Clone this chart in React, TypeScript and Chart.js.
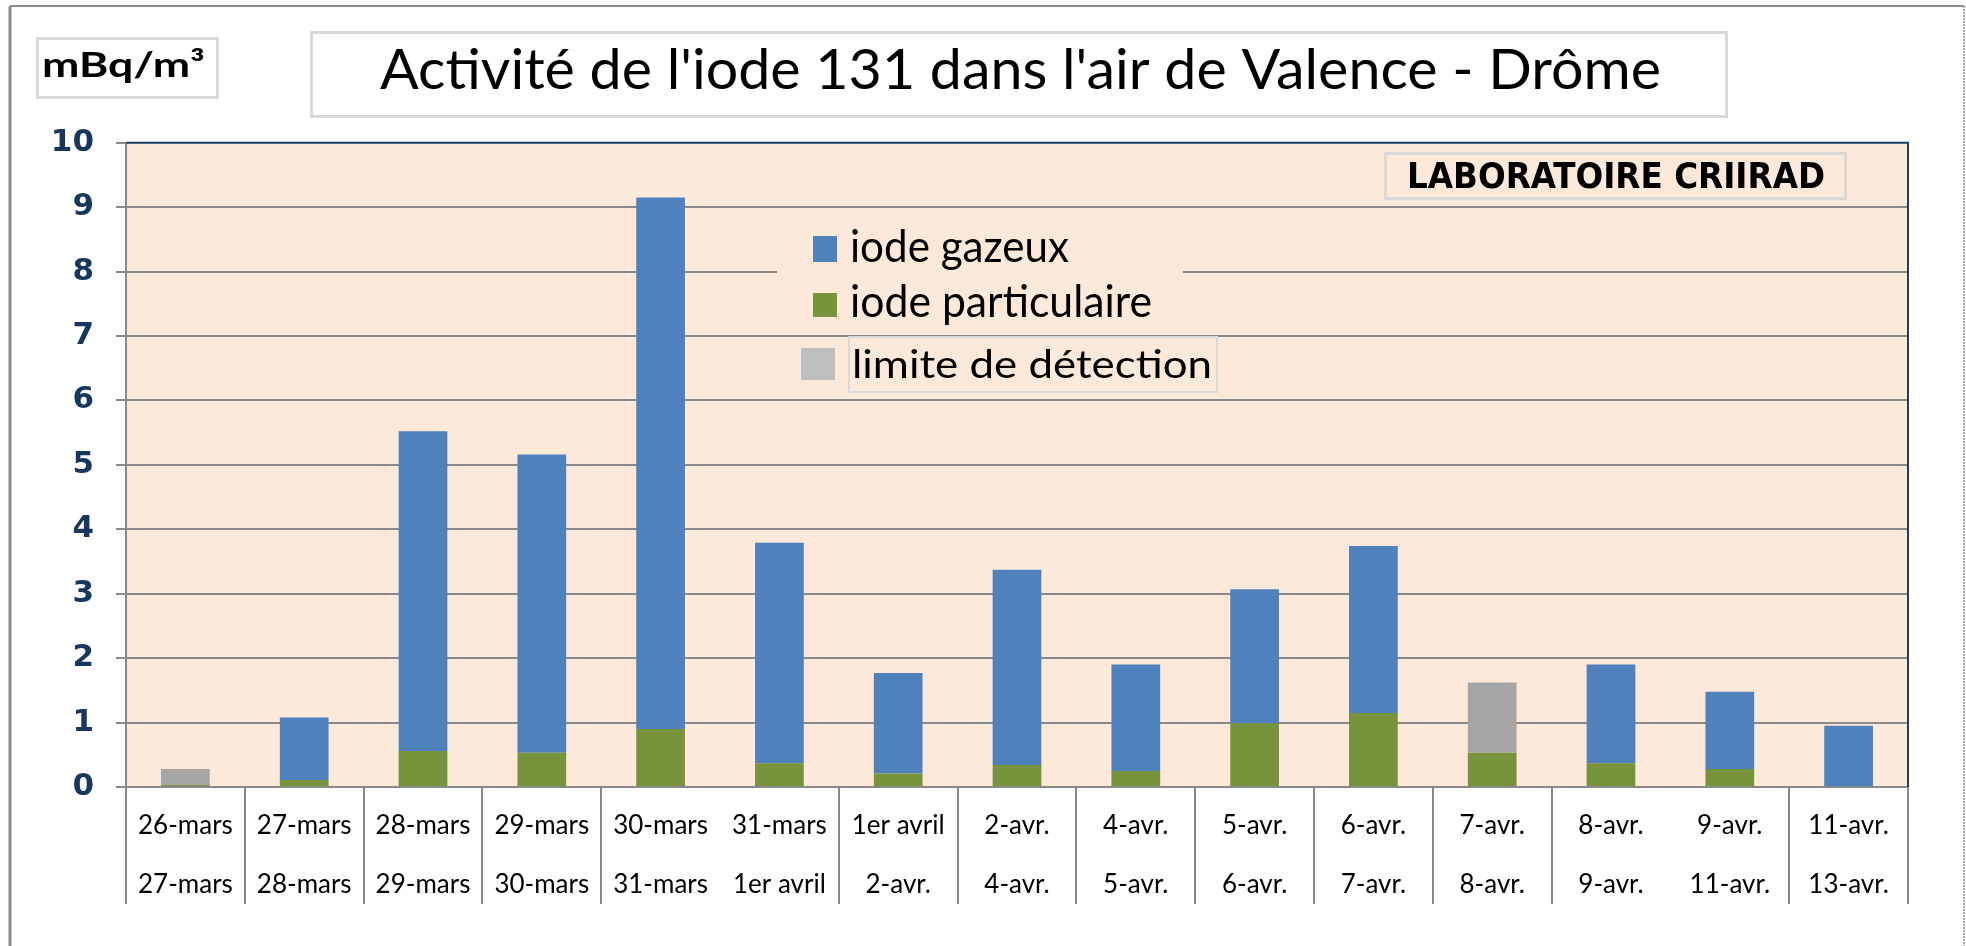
import React, { useEffect, useRef } from "react";
import { Chart, registerables } from "chart.js";

Chart.register(...registerables);

// ---------- data ----------
const periodStart = ["26-mars", "27-mars", "28-mars", "29-mars", "30-mars", "31-mars", "1er avril", "2-avr.", "4-avr.", "5-avr.", "6-avr.", "7-avr.", "8-avr.", "9-avr.", "11-avr."];
const periodEnd = ["27-mars", "28-mars", "29-mars", "30-mars", "31-mars", "1er avril", "2-avr.", "4-avr.", "5-avr.", "6-avr.", "7-avr.", "8-avr.", "9-avr.", "11-avr.", "13-avr."];
const iodeParticulaire = [0.03, 0.11, 0.56, 0.53, 0.9, 0.37, 0.21, 0.34, 0.25, 0.99, 1.15, 0.53, 0.37, 0.28, 0];
const iodeGazeux = [0, 0.97, 4.96, 4.63, 8.25, 3.42, 1.56, 3.03, 1.65, 2.08, 2.59, 0, 1.53, 1.2, 0.95];
const limiteDetection = [0.25, 0, 0, 0, 0, 0, 0, 0, 0, 0, 0, 1.09, 0, 0, 0];
const seriesNames = ["iode gazeux", "iode particulaire", "limite de détection"];
const yMin = 0;
const yMax = 10;
const yStep = 1;
const titleText = "Activité de l'iode 131 dans l'air de Valence - Drôme";
const unitText = "mBq/m³";
const labText = "LABORATOIRE CRIIRAD";
const separatorGaps = [5, 13];

// ---------- styles ----------
const BLUE = "#4F81BD";
const GREEN = "#77933C";
const GRAYBAR = "#A6A6A6";
const GRAYLEG = "#BFBFBF";
const PEACH = "#FDE9D9";
const GRID = "#898989";
const NAVY = "#1F3B63";
const BOXC = "#D9D9D9";
const FRAME = "#8C8C8C";

function fitText(ctx: CanvasRenderingContext2D, text: string, x: number, y: number, font: string, width: number, color = "#000") {
  ctx.save();
  ctx.font = font;
  ctx.fillStyle = color;
  ctx.textBaseline = "alphabetic";
  ctx.textAlign = "left";
  const w = ctx.measureText(text).width || 1;
  ctx.translate(x, y);
  ctx.scale(width / w, 1);
  ctx.fillText(text, 0, 0);
  ctx.restore();
}

function strokeBox(ctx: CanvasRenderingContext2D, x0: number, y0: number, x1: number, y1: number, lw: number, color: string, fill?: string) {
  ctx.save();
  if (fill) {
    ctx.fillStyle = fill;
    ctx.fillRect(x0, y0, x1 - x0, y1 - y0);
  }
  ctx.strokeStyle = color;
  ctx.lineWidth = lw;
  ctx.strokeRect(x0 + lw / 2, y0 + lw / 2, x1 - x0 - lw, y1 - y0 - lw);
  ctx.restore();
}

const decorPlugin = {
  id: "decor",
  beforeDraw(chart: any) {
    const { ctx, chartArea: a } = chart;
    ctx.save();
    ctx.fillStyle = PEACH;
    ctx.fillRect(a.left, a.top, a.right - a.left, a.bottom - a.top);
    ctx.restore();
  },
  afterDraw(chart: any) {
    const { ctx, chartArea: a, scales } = chart;
    const xs = scales.x;
    ctx.save();

    // category separators below the axis
    ctx.strokeStyle = GRID;
    ctx.lineWidth = 2;
    for (let k = 0; k <= periodStart.length; k++) {
      if (separatorGaps.includes(k)) continue;
      const px = Math.round(xs.getPixelForValue(k - 0.5));
      ctx.beginPath();
      ctx.moveTo(px, a.bottom);
      ctx.lineTo(px, 904);
      ctx.stroke();
    }

    // navy top / right plot border
    ctx.strokeStyle = NAVY;
    ctx.lineWidth = 2;
    ctx.beginPath();
    ctx.moveTo(a.left, a.top);
    ctx.lineTo(a.right, a.top);
    ctx.lineTo(a.right, a.bottom);
    ctx.stroke();

    // outer frame
    ctx.strokeStyle = FRAME;
    ctx.lineWidth = 2;
    ctx.beginPath();
    ctx.moveTo(10, 6);
    ctx.lineTo(1964, 6);
    ctx.stroke();
    ctx.lineWidth = 3;
    ctx.beginPath();
    ctx.moveTo(10, 6);
    ctx.lineTo(10, 946);
    ctx.stroke();
    ctx.strokeStyle = "#A8A8A8";
    ctx.lineWidth = 2;
    ctx.setLineDash([2, 1]);
    ctx.beginPath();
    ctx.moveTo(1964, 6);
    ctx.lineTo(1964, 946);
    ctx.stroke();
    ctx.setLineDash([]);
    ctx.restore();

    // title box
    strokeBox(ctx, 310, 31, 1728, 118, 3, BOXC, "#fff");
    fitText(ctx, titleText, 380, 89, "56px Lato", 1281);

    // unit box
    strokeBox(ctx, 36, 37, 219, 99, 3, BOXC, "#fff");
    fitText(ctx, unitText, 42, 77, "bold 34px Lato", 163);

    // laboratory box
    strokeBox(ctx, 1384, 152, 1847, 200, 3, BOXC, PEACH);
    fitText(ctx, labText, 1407, 188, 'bold 36px "Liberation Sans Narrow", "DejaVu Sans Condensed", "Liberation Sans", sans-serif', 418);

    // legend
    ctx.save();
    ctx.fillStyle = PEACH;
    ctx.fillRect(777, 218, 406, 112);
    ctx.fillStyle = BLUE;
    ctx.fillRect(813, 236, 24, 26);
    ctx.fillStyle = GREEN;
    ctx.fillRect(813, 293, 24, 24);
    ctx.fillStyle = GRAYLEG;
    ctx.fillRect(801, 348, 34, 32);
    ctx.restore();
    fitText(ctx, seriesNames[0], 850, 262, "44px Lato", 219);
    fitText(ctx, seriesNames[1], 850, 317, "44px Lato", 302);
    strokeBox(ctx, 848, 336, 1218, 393, 2, BOXC);
    fitText(ctx, seriesNames[2], 852, 378, "39px Lato", 360);
  },
};

export default function App() {
  const ref = useRef<HTMLCanvasElement | null>(null);

  useEffect(() => {
    if (!ref.current) return;
    const labels = periodStart.map((s, i) => [s, periodEnd[i]]);
    const chart = new Chart(ref.current, {
      type: "bar",
      data: {
        labels,
        datasets: [
          { label: seriesNames[1], data: iodeParticulaire, backgroundColor: GREEN, barPercentage: 0.41, categoryPercentage: 1 },
          { label: seriesNames[0], data: iodeGazeux, backgroundColor: BLUE, barPercentage: 0.41, categoryPercentage: 1 },
          { label: seriesNames[2], data: limiteDetection, backgroundColor: GRAYBAR, barPercentage: 0.41, categoryPercentage: 1 },
        ],
      },
      options: {
        responsive: false,
        animation: false,
        devicePixelRatio: 1,
        layout: { padding: { left: 0, right: 58, top: 142.7, bottom: 42 } },
        plugins: {
          legend: { display: false },
          title: { display: false },
          tooltip: { enabled: false },
        },
        scales: {
          x: {
            stacked: true,
            afterFit: (s: any) => {
              s.height = 117;
            },
            grid: { drawOnChartArea: false, drawTicks: false },
            border: { display: true, color: GRID, width: 2 },
            ticks: {
              autoSkip: false,
              maxRotation: 0,
              minRotation: 0,
              padding: 9,
              color: "#000",
              font: { family: "Lato", size: 26, lineHeight: 2.27 },
            },
          },
          y: {
            stacked: true,
            min: yMin,
            max: yMax,
            afterFit: (s: any) => {
              s.width = 126;
            },
            grid: {
              color: (c: any) => (c.tick && c.tick.value === yMax ? "rgba(0,0,0,0)" : GRID),
              lineWidth: 2,
              tickLength: 10,
              tickColor: GRID,
            },
            border: { display: true, color: GRID, width: 2 },
            ticks: {
              stepSize: yStep,
              padding: 22,
              color: "#17375E",
              font: { family: "DejaVu Sans", weight: "bold", size: 31 },
            },
          },
        },
      },
      plugins: [decorPlugin],
    } as any);
    return () => chart.destroy();
  }, []);

  return (
    <div style={{ position: "fixed", left: 0, top: 0, width: 1966, height: 946, background: "#fff" }}>
      <canvas ref={ref} width={1966} height={946} style={{ display: "block" }} />
    </div>
  );
}
